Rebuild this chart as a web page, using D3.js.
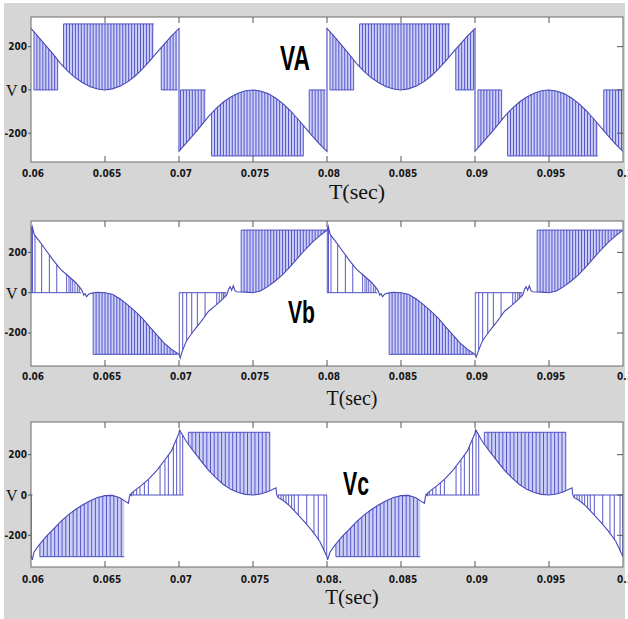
<!DOCTYPE html>
<html>
<head>
<meta charset="utf-8">
<script src="https://cdn.jsdelivr.net/npm/d3@7"></script>
<style>
  body { margin: 0; background: #fff; }
  .tick-label { font-family: "Liberation Sans Narrow", "Arial Narrow", "DejaVu Sans Condensed", sans-serif; font-weight: bold; font-size: 10px; fill: #161616; }
  .serif-label { font-family: "Liberation Serif", "Times New Roman", serif; fill: #111; }
  .panel-name { font-family: "Liberation Sans", Arial, sans-serif; font-weight: bold; fill: #000; }
</style>
</head>
<body>
<div id="chart"></div>
<script>
// ---- data ----
const xTicks = [0.06, 0.065, 0.07, 0.075, 0.08, 0.085, 0.09, 0.095, 0.1];
const xTickLabels = ['0.06', '0.065', '0.07', '0.075', '0.08', '0.085', '0.09', '0.095', '0.1'];
const xTickLabelsC = ['0.06', '0.065', '0.07', '0.075', '0.08.', '0.085', '0.09', '0.095', '0.1'];
const yTicks = [-200, 0, 200];
const yTickLabels = ['-200', '0', '200'];

// VA: reference curve [time, volts]
const vaCurve = [
  [0.06, 284], [0.0605, 245], [0.061, 205], [0.0615, 165], [0.062, 122], [0.0625, 86], [0.063, 56],
  [0.0635, 33], [0.064, 15], [0.0645, 4], [0.065, 0], [0.0655, 5], [0.066, 17], [0.0665, 36],
  [0.067, 62], [0.0675, 95], [0.068, 132], [0.0685, 172], [0.069, 212], [0.0695, 250], [0.07, 284],
  [0.07, -284], [0.0705, -245], [0.071, -205], [0.0715, -165], [0.072, -122], [0.0725, -86], [0.073, -56],
  [0.0735, -33], [0.074, -15], [0.0745, -4], [0.075, 0], [0.0755, -5], [0.076, -17], [0.0765, -36],
  [0.077, -62], [0.0775, -95], [0.078, -132], [0.0785, -172], [0.079, -212], [0.0795, -250], [0.08, -284],
  [0.08, 284], [0.0805, 246], [0.081, 206], [0.0815, 165], [0.082, 122], [0.0825, 86], [0.083, 56],
  [0.0835, 33], [0.084, 15], [0.0845, 4], [0.085, 0], [0.0855, 5], [0.086, 17], [0.0865, 36],
  [0.087, 62], [0.0875, 95], [0.088, 132], [0.0885, 172], [0.089, 212], [0.0895, 250], [0.09, 284],
  [0.09, -284], [0.0905, -245], [0.091, -205], [0.0915, -165], [0.092, -122], [0.0925, -86], [0.093, -56],
  [0.0935, -33], [0.094, -15], [0.0945, -4], [0.095, 0], [0.0955, -5], [0.096, -17], [0.0965, -36],
  [0.097, -62], [0.0975, -95], [0.098, -132], [0.0985, -172], [0.099, -212], [0.0995, -250], [0.1, -284]
];
// dense PWM bands [start, end, switching level]
const vaBands = [
  [0.0602, 0.0618, 0], [0.0622, 0.0683, 305], [0.0688, 0.0699, 0],
  [0.0701, 0.0718, 0], [0.0722, 0.0784, -305], [0.0788, 0.0799, 0],
  [0.0802, 0.0818, 0], [0.0822, 0.0883, 305], [0.0887, 0.0899, 0],
  [0.0902, 0.0918, 0], [0.0922, 0.0983, -305], [0.0987, 0.0999, 0]
];
const vaSparse = [];
const vaSparseTimes = [];

// Vb
const vbCurve = [
  [0.06, 311], [0.06008, 330], [0.06022, 288], [0.0605, 262], [0.061, 212], [0.0615, 162], [0.062, 116],
  [0.0625, 84], [0.063, 52], [0.06331, 25], [0.06347, 8], [0.06356, -12], [0.06365, -5], [0.06376, -20],
  [0.06388, -8], [0.0641, -2], [0.0645, 2], [0.065, 0], [0.0655, -8], [0.066, -30], [0.0665, -58],
  [0.067, -90], [0.0675, -125], [0.068, -168], [0.0685, -210], [0.069, -250], [0.0695, -282], [0.07, -306],
  [0.07008, -324], [0.07022, -290], [0.0705, -240], [0.071, -188], [0.0715, -142], [0.072, -92], [0.0725, -62],
  [0.073, -28], [0.07322, -12], [0.07333, 13], [0.07345, 30], [0.07356, 12], [0.07367, 35], [0.07378, 10],
  [0.0739, 5], [0.0745, 3], [0.075, 0], [0.0755, 8], [0.076, 30], [0.0765, 58], [0.077, 90], [0.0775, 128],
  [0.078, 170], [0.0785, 212], [0.079, 250], [0.0795, 282], [0.08, 311],
  [0.08008, 331], [0.08022, 288], [0.0805, 262], [0.081, 212], [0.0815, 162], [0.082, 116],
  [0.0825, 84], [0.083, 52], [0.08331, 25], [0.08347, 8], [0.08356, -12], [0.08365, -5], [0.08376, -20],
  [0.08388, -8], [0.0841, -2], [0.0845, 2], [0.085, 0], [0.0855, -8], [0.086, -30], [0.0865, -58],
  [0.087, -90], [0.0875, -125], [0.088, -168], [0.0885, -210], [0.089, -250], [0.0895, -282], [0.09, -306],
  [0.09008, -320], [0.09022, -290], [0.0905, -240], [0.091, -188], [0.0915, -142], [0.092, -92], [0.0925, -62],
  [0.093, -28], [0.09322, -12], [0.09333, 13], [0.09345, 30], [0.09356, 12], [0.09367, 35], [0.09378, 10],
  [0.0939, 5], [0.0945, 3], [0.095, 0], [0.0955, 8], [0.096, 30], [0.0965, 58], [0.097, 90], [0.0975, 128],
  [0.098, 170], [0.0985, 212], [0.099, 250], [0.0995, 282], [0.1, 311]
];
const vbBands = [
  [0.0642, 0.0699, -306], [0.0742, 0.07995, 311],
  [0.0842, 0.0899, -306], [0.0942, 0.09995, 311]
];
const vbSparse = [[0.06, 0.0634, 0], [0.07, 0.0732, 0], [0.08, 0.0834, 0], [0.09, 0.0932, 0]];
const vbSparseTimes = [
  [0.06002, 0.0601, 0.06027, 0.06072, 0.06124, 0.06174, 0.06241, 0.06257, 0.06269, 0.06282, 0.06297, 0.06313, 0.06326],
  [0.07002, 0.07025, 0.07052, 0.07086, 0.07124, 0.07176, 0.07255, 0.07272, 0.07289, 0.073, 0.07311],
  [0.08002, 0.0801, 0.08027, 0.08072, 0.08124, 0.08174, 0.08241, 0.08257, 0.08269, 0.08282, 0.08297, 0.08313, 0.08326],
  [0.09002, 0.09025, 0.09052, 0.09086, 0.09124, 0.09176, 0.09255, 0.09272, 0.09289, 0.093, 0.09311]
];

// Vc
const vcCurve = [
  [0.06, -300], [0.06008, -322], [0.0602, -284], [0.0605, -252], [0.061, -208], [0.0615, -170], [0.062, -132],
  [0.0625, -100], [0.063, -72], [0.0635, -48], [0.064, -28], [0.0645, -12], [0.065, -3], [0.0655, -2],
  [0.066, -14], [0.0663, -28], [0.06658, -41], [0.06665, -8], [0.0667, 4], [0.06676, -3], [0.0668, 10],
  [0.067, 22], [0.0675, 50], [0.068, 82], [0.0685, 122], [0.069, 170], [0.0695, 220], [0.0697, 255],
  [0.07, 306], [0.07004, 322], [0.0705, 265], [0.071, 215], [0.0715, 168], [0.072, 122], [0.0725, 85],
  [0.073, 52], [0.0735, 28], [0.074, 12], [0.0745, 3], [0.075, 0], [0.0755, 5], [0.076, 16], [0.07655, 36],
  [0.0766, 3], [0.0767, -13], [0.077, -25], [0.0775, -55], [0.078, -95], [0.0785, -135], [0.079, -178],
  [0.0795, -228], [0.08, -306],
  [0.08004, -322], [0.0802, -284], [0.0805, -252], [0.081, -208], [0.0815, -170], [0.082, -132],
  [0.0825, -100], [0.083, -72], [0.0835, -48], [0.084, -28], [0.0845, -12], [0.085, -3], [0.0855, -2],
  [0.086, -14], [0.0863, -28], [0.08658, -41], [0.08665, -8], [0.0867, 4], [0.08676, -3], [0.0868, 10],
  [0.087, 22], [0.0875, 50], [0.088, 82], [0.0885, 122], [0.089, 170], [0.0895, 220], [0.0897, 255],
  [0.09, 306], [0.09004, 324], [0.0905, 265], [0.091, 215], [0.0915, 168], [0.092, 122], [0.0925, 85],
  [0.093, 52], [0.0935, 28], [0.094, 12], [0.0945, 3], [0.095, 0], [0.0955, 5], [0.096, 16], [0.09655, 36],
  [0.0966, 3], [0.0967, -13], [0.097, -25], [0.0975, -55], [0.098, -95], [0.0985, -135], [0.099, -178],
  [0.0995, -228], [0.1, -306]
];
const vcBands = [
  [0.0606, 0.0663, -306], [0.07063, 0.07615, 311],
  [0.0806, 0.0863, -306], [0.09063, 0.09615, 311]
];
const vcSparse = [[0.06, 0.0601, 0], [0.0667, 0.0703, 0], [0.0767, 0.08, 0], [0.0867, 0.0903, 0], [0.0967, 0.1, 0]];
const vcSparseTimes = [
  [0.06002],
  [0.06674, 0.06691, 0.06714, 0.06736, 0.06766, 0.06793, 0.06872, 0.06905, 0.06928, 0.06962, 0.06984, 0.07007, 0.07025],
  [0.07671, 0.07689, 0.07705, 0.07723, 0.07741, 0.07761, 0.07779, 0.07806, 0.07863, 0.07912, 0.07941, 0.0798, 0.07998],
  [0.08674, 0.08691, 0.08714, 0.08736, 0.08766, 0.08793, 0.08872, 0.08905, 0.08928, 0.08962, 0.08984, 0.09007, 0.09025],
  [0.09671, 0.09689, 0.09705, 0.09723, 0.09741, 0.09761, 0.09779, 0.09806, 0.09863, 0.09912, 0.09941, 0.0998, 0.09998]
];

// value of the drawn curve at time t (follows the polyline)
function valueAt(curve, t) {
  for (let i = 0; i < curve.length - 1; i++) {
    const [t0, v0] = curve[i];
    const [t1, v1] = curve[i + 1];
    if (t >= t0 && t <= t1 && t1 > t0) return v0 + (v1 - v0) * (t - t0) / (t1 - t0);
  }
  return curve[curve.length - 1][1];
}

class WavePanel {
  constructor(_config, _curve, _bands, _sparse, _sparseTimes) {
    this.config = _config;
    this.curve = _curve;
    this.bands = _bands;
    this.sparse = _sparse;
    this.sparseTimes = _sparseTimes;
    this.initVis();
  }

  initVis() {
    let vis = this;
    const c = vis.config;
    vis.xScale = d3.scaleLinear().domain([0.06, 0.1]).range([c.left, c.left + c.width]);
    vis.yScale = d3.scaleLinear().domain(c.yDomain).range([c.top + c.height, c.top]);

    vis.g = c.parent.append('g');
    vis.g.append('rect')
      .attr('x', c.left).attr('y', c.top)
      .attr('width', c.width).attr('height', c.height)
      .attr('fill', '#fff');

    vis.g.append('clipPath').attr('id', c.id + '-clip')
      .append('rect')
      .attr('x', c.left).attr('y', c.top - 2)
      .attr('width', c.width).attr('height', c.height + 4);

    vis.plot = vis.g.append('g').attr('clip-path', `url(#${c.id}-clip)`);
    vis.renderVis();
  }

  renderVis() {
    let vis = this;
    const c = vis.config;
    const x = vis.xScale, y = vis.yScale;
    const blue = '#4f4fc8';

    // light shading in the dense PWM bands
    const area = d3.area().x(d => x(d[0])).y0(d => y(d[2])).y1(d => y(d[1]));
    vis.plot.selectAll('.band-fill')
      .data(vis.bands)
      .join('path')
      .attr('class', 'band-fill')
      .attr('fill', '#ccd0f6')
      .attr('d', b => {
        const inside = vis.curve.filter(p => p[0] > b[0] && p[0] < b[1]);
        const pts = [[b[0], valueAt(vis.curve, b[0])], ...inside, [b[1], valueAt(vis.curve, b[1])]];
        return area(pts.map(p => [p[0], p[1], b[2]]));
      });

    // pulses: dense bands at the carrier step, sparse bands at read times
    const pulses = [];
    vis.bands.forEach(b => {
      d3.range(b[0], b[1] + 1e-9, c.step).forEach(t => pulses.push([t, b[2]]));
    });
    vis.sparse.forEach((b, i) => {
      vis.sparseTimes[i].forEach(t => pulses.push([t, b[2]]));
    });

    vis.plot.selectAll('.pulse')
      .data(pulses)
      .join('line')
      .attr('class', 'pulse')
      .attr('x1', d => x(d[0])).attr('x2', d => x(d[0]))
      .attr('y1', d => y(d[1]))
      .attr('y2', d => y(valueAt(vis.curve, d[0])))
      .attr('stroke', blue)
      .attr('stroke-width', 0.95);

    // switching level lines
    vis.plot.selectAll('.level')
      .data(vis.bands.concat(vis.sparse))
      .join('line')
      .attr('class', 'level')
      .attr('x1', d => x(d[0])).attr('x2', d => x(d[1]))
      .attr('y1', d => y(d[2])).attr('y2', d => y(d[2]))
      .attr('stroke', blue)
      .attr('stroke-width', 1);

    // continuous curve
    vis.plot.append('path')
      .datum(vis.curve)
      .attr('fill', 'none')
      .attr('stroke', '#4848b8')
      .attr('stroke-width', 1.1)
      .attr('d', d3.line().x(d => x(d[0])).y(d => y(d[1])));

    // frame and ticks
    vis.g.append('rect')
      .attr('x', c.left).attr('y', c.top)
      .attr('width', c.width).attr('height', c.height)
      .attr('fill', 'none').attr('stroke', '#6a6a6a').attr('stroke-width', 1);

    const inner = xTicks.slice(1, -1);
    vis.g.selectAll('.xtick-top')
      .data(inner).join('line')
      .attr('x1', d => x(d)).attr('x2', d => x(d))
      .attr('y1', c.top).attr('y2', c.top + 6)
      .attr('stroke', '#555');
    vis.g.selectAll('.xtick-bottom')
      .data(inner).join('line')
      .attr('x1', d => x(d)).attr('x2', d => x(d))
      .attr('y1', c.top + c.height).attr('y2', c.top + c.height - 6)
      .attr('stroke', '#555');
    vis.g.selectAll('.ytick-right')
      .data(yTicks).join('line')
      .attr('x1', c.left + c.width).attr('x2', c.left + c.width - 6)
      .attr('y1', d => y(d)).attr('y2', d => y(d))
      .attr('stroke', '#555');
    vis.g.selectAll('.ytick-left')
      .data(yTicks).join('line')
      .attr('x1', c.left).attr('x2', c.left - 3)
      .attr('y1', d => y(d)).attr('y2', d => y(d))
      .attr('stroke', '#555');

    vis.g.selectAll('.xlabel')
      .data(xTicks).join('text')
      .attr('class', 'tick-label')
      .attr('text-anchor', 'middle')
      .attr('x', d => x(d) + 2)
      .attr('y', c.tickBase)
      .text((d, i) => c.tickLabels[i]);

    vis.g.selectAll('.ylabel')
      .data(yTicks).join('text')
      .attr('class', 'tick-label')
      .attr('text-anchor', 'end')
      .attr('x', c.left - 4)
      .attr('y', d => y(d))
      .attr('dy', '.35em')
      .text((d, i) => yTickLabels[i]);

    vis.g.append('text')
      .attr('class', 'serif-label')
      .attr('x', 6).attr('y', y(0) + 6)
      .style('font-size', '16px')
      .text('V');

    vis.g.append('text')
      .attr('class', 'serif-label')
      .attr('text-anchor', 'middle')
      .attr('x', c.titleX).attr('y', c.titleBase)
      .style('font-size', c.titleSize + 'px')
      .text('T(sec)');

    vis.g.append('text')
      .attr('class', 'panel-name')
      .attr('x', c.nameX).attr('y', c.nameBase)
      .attr('textLength', c.nameWidth)
      .attr('lengthAdjust', 'spacingAndGlyphs')
      .style('font-size', c.nameSize + 'px')
      .text(c.name);
  }
}

const svg = d3.select('#chart').append('svg')
  .attr('width', 628).attr('height', 619);
svg.append('rect').attr('x', 4).attr('y', 3).attr('width', 621).attr('height', 616).attr('fill', '#d6d6d6');

new WavePanel({
  parent: svg, id: 'va', left: 31, width: 592, top: 17, height: 145, yDomain: [-333, 337], step: 0.0002,
  tickLabels: xTickLabels, tickBase: 177, titleX: 357, titleBase: 199, titleSize: 22,
  name: 'VA', nameX: 280, nameBase: 70, nameSize: 35, nameWidth: 30
}, vaCurve, vaBands, vaSparse, vaSparseTimes);

new WavePanel({
  parent: svg, id: 'vb', left: 31, width: 592, top: 221, height: 145, yDomain: [-364, 356], step: 0.0002,
  tickLabels: xTickLabels, tickBase: 380, titleX: 352, titleBase: 405, titleSize: 20,
  name: 'Vb', nameX: 288, nameBase: 323, nameSize: 31, nameWidth: 27
}, vbCurve, vbBands, vbSparse, vbSparseTimes);

new WavePanel({
  parent: svg, id: 'vc', left: 31, width: 592, top: 422, height: 145, yDomain: [-357, 362], step: 0.00025,
  tickLabels: xTickLabelsC, tickBase: 583, titleX: 352, titleBase: 604, titleSize: 21,
  name: 'Vc', nameX: 343, nameBase: 495, nameSize: 34, nameWidth: 26
}, vcCurve, vcBands, vcSparse, vcSparseTimes);
</script>
</body>
</html>
